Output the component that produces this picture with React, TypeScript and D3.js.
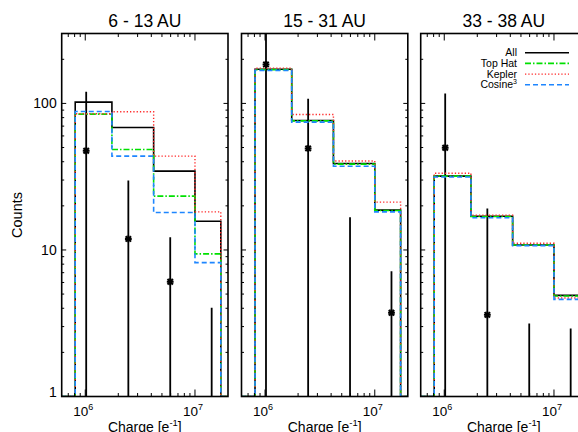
import React from "react";
import * as d3 from "d3";

const panelTitles = ["6 - 13 AU", "15 - 31 AU", "33 - 38 AU"];
const binEdges = [8.1e5, 1.75e6, 4.2e6, 1.0e7, 1.72e7];
const allCounts = [
  [102, 68.5, 34.5, 15.7],
  [171, 76.5, 38.9, 18.7],
  [31.9, 17.0, 10.8, 4.9],
];
const topHatCounts = [
  [84.5, 48.5, 23.3, 9.4],
  [170, 76, 38.5, 18.6],
  [31.9, 16.9, 10.8, 4.85],
];
const keplerCounts = [
  [85, 87.8, 43.7, 18.2],
  [174, 84, 40.5, 21.2],
  [33.4, 17.3, 11.1, 4.7],
];
const cosineCounts = [
  [88, 43.7, 18.0, 8.2],
  [168, 74.5, 37.3, 18.2],
  [31.5, 16.6, 10.7, 4.6],
];
const pointCharge = [1.02e6, 2.47e6, 5.95e6, 1.42e7];
const pointCounts: (number | null)[][] = [
  [47.5, 11.9, 6.07, null],
  [184.6, 49.3, null, 3.73],
  [49.8, 3.61, null, null],
];
const pointErrHigh = [
  [120, 29.8, 12.2, 4.03],
  [420, 107.7, 16.7, 7.17],
  [117, 19.2, 3.15, 2.91],
];
const xDomain = [6.1e5, 2.0e7];
const yDomain = [1, 300];
const yTickLabels = [1, 10, 100];
const xTickMajors = [1e6, 1e7];
const legendNames = ["All", "Top Hat", "Kepler", "Cosine"];

const FONT = "'Liberation Sans', Arial, Helvetica, sans-serif";

const seriesStyles = [
  { color: "#000000", dash: "none", width: 1.6 },
  { color: "#00e000", dash: "6,2,1.5,2", width: 1.6 },
  { color: "#ff2a2a", dash: "1.3,2", width: 1.4 },
  { color: "#1e86ff", dash: "5,3", width: 1.6 },
];

const PANEL_W = 166.3;
const TOP = 33.5;
const BOTTOM = 396.5;
const LEFTS = [61.7, 241.5, 420.7];

function Panel({ idx }: { idx: number }) {
  const L = LEFTS[idx];
  const x = d3.scaleLog().domain(xDomain).range([L, L + PANEL_W]);
  const y = d3.scaleLog().domain(yDomain).range([BOTTOM, TOP]);
  const series = [allCounts[idx], topHatCounts[idx], keplerCounts[idx], cosineCounts[idx]];

  const histPath = (vals: number[]) => {
    const pts: [number, number][] = [];
    pts.push([x(xDomain[0]), BOTTOM]);
    pts.push([x(binEdges[0]), BOTTOM]);
    vals.forEach((v, i) => {
      pts.push([x(binEdges[i]), y(v)]);
      pts.push([x(binEdges[i + 1]), y(v)]);
    });
    pts.push([x(binEdges[binEdges.length - 1]), BOTTOM]);
    pts.push([x(xDomain[1]), BOTTOM]);
    return d3.line()(pts) as string;
  };

  const xMinor: number[] = [];
  for (let e = 5; e <= 7; e++) {
    for (let k = 2; k <= 9; k++) {
      const v = k * Math.pow(10, e);
      if (v > xDomain[0] && v < xDomain[1]) xMinor.push(v);
    }
  }
  const yMinor: number[] = [];
  for (let e = 0; e <= 2; e++) {
    for (let k = 2; k <= 9; k++) {
      const v = k * Math.pow(10, e);
      if (v > yDomain[0] && v < yDomain[1]) yMinor.push(v);
    }
  }
  const clipId = `clip${idx}`;
  const cx = L + PANEL_W / 2;

  return (
    <g>
      <defs>
        <clipPath id={clipId}>
          <rect x={L} y={TOP} width={PANEL_W} height={BOTTOM - TOP} />
        </clipPath>
      </defs>
      <g clipPath={`url(#${clipId})`}>
        {/* error bars */}
        {pointCharge.map((c, i) => (
          <line
            key={`e${i}`}
            x1={x(c)}
            x2={x(c)}
            y1={y(pointErrHigh[idx][i])}
            y2={BOTTOM + 2}
            stroke="#000"
            strokeWidth={1.8}
          />
        ))}
        {series.map((vals, s) => (
          <path
            key={`s${s}`}
            d={histPath(vals)}
            fill="none"
            stroke={seriesStyles[s].color}
            strokeWidth={seriesStyles[s].width}
            strokeDasharray={seriesStyles[s].dash}
          />
        ))}
        {pointCharge.map((c, i) => {
          const v = pointCounts[idx][i];
          if (v === null) return null;
          const px = x(c);
          const py = y(v);
          const r = 3.4;
          return (
            <g key={`m${i}`} stroke="#000" strokeWidth={2}>
              <line x1={px - r} x2={px + r} y1={py} y2={py} />
              <line x1={px} x2={px} y1={py - r} y2={py + r} />
              <line x1={px - r * 0.8} x2={px + r * 0.8} y1={py - r * 0.8} y2={py + r * 0.8} />
              <line x1={px - r * 0.8} x2={px + r * 0.8} y1={py + r * 0.8} y2={py - r * 0.8} />
            </g>
          );
        })}
      </g>
      {/* ticks */}
      <g stroke="#000" strokeWidth={1}>
        {xTickMajors.map((t) => (
          <g key={`xm${t}`}>
            <line x1={x(t)} x2={x(t)} y1={BOTTOM} y2={BOTTOM - 7} />
            <line x1={x(t)} x2={x(t)} y1={TOP} y2={TOP + 7} />
          </g>
        ))}
        {xMinor.map((t) => (
          <g key={`xn${t}`}>
            <line x1={x(t)} x2={x(t)} y1={BOTTOM} y2={BOTTOM - 3.5} />
            <line x1={x(t)} x2={x(t)} y1={TOP} y2={TOP + 3.5} />
          </g>
        ))}
        {yTickLabels.map((t) => (
          <g key={`ym${t}`}>
            <line x1={L} x2={L + 4.5} y1={y(t)} y2={y(t)} />
            <line x1={L + PANEL_W} x2={L + PANEL_W - 4.5} y1={y(t)} y2={y(t)} />
          </g>
        ))}
        {yMinor.map((t) => (
          <g key={`yn${t}`}>
            <line x1={L} x2={L + 2.5} y1={y(t)} y2={y(t)} />
            <line x1={L + PANEL_W} x2={L + PANEL_W - 2.5} y1={y(t)} y2={y(t)} />
          </g>
        ))}
      </g>
      <rect
        x={L}
        y={TOP}
        width={PANEL_W}
        height={BOTTOM - TOP}
        fill="none"
        stroke="#000"
        strokeWidth={1.6}
      />
      {/* x tick labels */}
      {xTickMajors.map((t) => (
        <text
          key={`xl${t}`}
          x={x(t) - 2}
          y={416}
          fontSize={13.5}
          fontFamily={FONT}
          textAnchor="middle"
          fill="#000"
        >
          10
          <tspan dy={-6} fontSize={9}>
            {Math.round(Math.log10(t))}
          </tspan>
        </text>
      ))}
      <text x={cx} y={432} fontSize={14} fontFamily={FONT} textAnchor="middle" fill="#000">
        Charge [e
        <tspan dy={-6} fontSize={9.5}>
          -1
        </tspan>
        <tspan dy={6}>]</tspan>
      </text>
      <text x={cx} y={27} fontSize={17.5} fontFamily={FONT} textAnchor="middle" fill="#000">
        {panelTitles[idx]}
      </text>
      {idx === 0 &&
        yTickLabels.map((t) => (
          <text
            key={`yl${t}`}
            x={L - 5}
            y={y(t)}
            dy={t === 1 ? "0" : "0.35em"}
            fontSize={14}
            fontFamily={FONT}
            textAnchor="end"
            fill="#000"
          >
            {t}
          </text>
        ))}
      {idx === 2 &&
        legendNames.map((name, i) => {
          const ly = 52.7 + i * 10.7;
          return (
            <g key={`lg${i}`}>
              <text
                x={517}
                y={ly + 3.6}
                fontSize={10.5}
                fontFamily={FONT}
                textAnchor="end"
                fill="#000"
              >
                {name}
                {name === "Cosine" && (
                  <tspan dy={-4} fontSize={7}>
                    3
                  </tspan>
                )}
              </text>
              <line
                x1={525}
                x2={569}
                y1={ly}
                y2={ly}
                stroke={seriesStyles[i].color}
                strokeWidth={seriesStyles[i].width}
                strokeDasharray={seriesStyles[i].dash}
              />
            </g>
          );
        })}
    </g>
  );
}

export default function App() {
  return (
    <svg
      width={578}
      height={432}
      style={{ position: "absolute", left: 0, top: 0, background: "#fff" }}
    >
      <rect x={0} y={0} width={578} height={432} fill="#fff" />
      {[0, 1, 2].map((i) => (
        <Panel key={i} idx={i} />
      ))}
      <text
        transform="translate(22,215) rotate(-90)"
        fontSize={14.5}
        fontFamily={FONT}
        textAnchor="middle"
        fill="#000"
      >
        Counts
      </text>
    </svg>
  );
}
